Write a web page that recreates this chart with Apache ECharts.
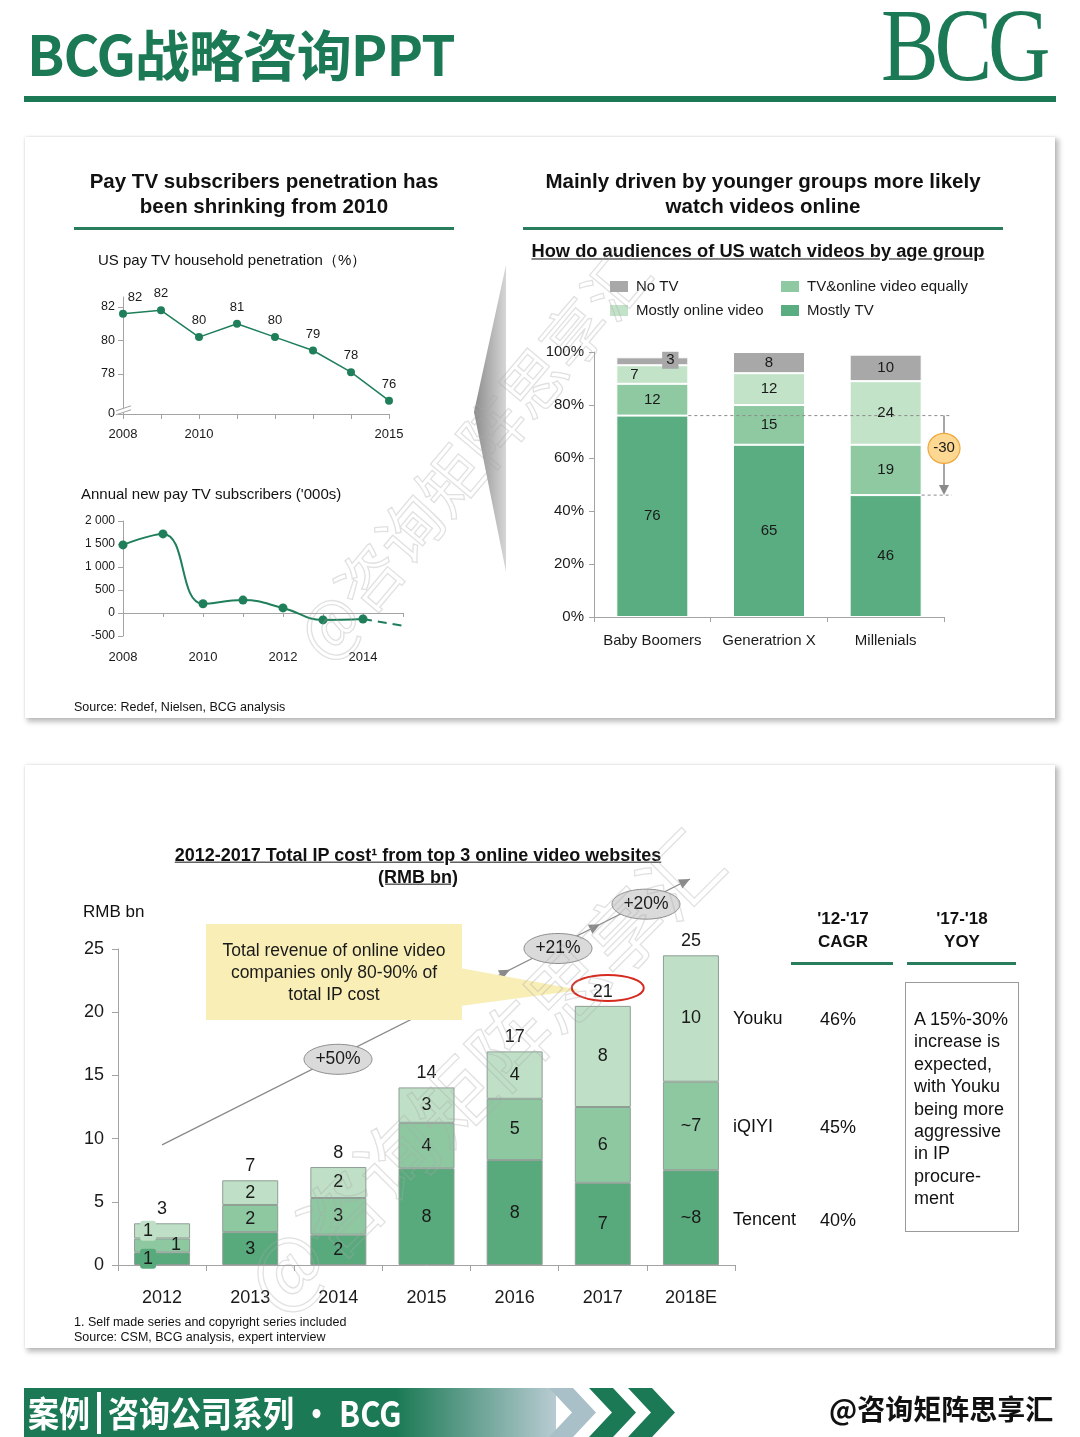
<!DOCTYPE html>
<html><head><meta charset="utf-8">
<script src="https://cdn.jsdelivr.net/npm/echarts@6.0.0/dist/echarts.min.js"></script>
<style>
html,body{margin:0;padding:0;background:#fff;}
body{width:1080px;height:1437px;position:relative;overflow:hidden;font-family:"Liberation Sans",Arial,sans-serif;color:#111;}
.card{position:absolute;left:25px;width:1030px;background:#fff;box-shadow:3px 3px 5px 1px rgba(0,0,0,0.25),0 0 2px rgba(0,0,0,0.12);z-index:0;}
#chart{position:absolute;left:0;top:0;width:1080px;height:1437px;z-index:2;}
#txt{position:absolute;left:0;top:0;width:1080px;height:1437px;z-index:3;pointer-events:none;}
.t{position:absolute;white-space:nowrap;line-height:1.15;}
.bar{position:absolute;background:#1f7a57;}
.wm{position:absolute;white-space:nowrap;font-family:"Noto Sans CJK SC",sans-serif;color:rgba(255,255,255,0);-webkit-text-stroke:1.3px rgba(170,170,170,0.35);z-index:4;transform-origin:center center;}
</style>
</head><body>
<div class="card" style="top:137px;height:581px;"></div>
<div class="card" style="top:765px;height:583px;"></div>
<div id="chart"></div>
<div id="txt"></div>
<script>
// ---------------- DATA ----------------
const penYears=['2008','2009','2010','2011','2012','2013','2014','2015'];
const penValues=[81.6,81.8,80.2,81.0,80.2,79.4,78.1,76.4];
const penTicks=[75.6,78,80,82];
const subYears=['2008','2009','2010','2011','2012','2013','2014','2015'];
const subActual=[1480,1720,200,280,110,-150,-130,null];
const subProjected=[null,null,null,null,null,null,-130,-280];
const ageGroups=['Baby Boomers','Generatrion X','Millenials'];
const mostlyTV=[76,65,46];
const tvOnlineEqually=[12,15,19];
const mostlyOnline=[7,12,24];
const noTV=[3,8,10];
const ipYears=['2012','2013','2014','2015','2016','2017','2018E'];
const tencentCost=[1.0,2.6,2.4,7.65,8.3,6.5,7.5];
const iqiyiCost=[1.1,2.15,2.9,3.6,4.85,6.0,7.0];
const youkuCost=[1.2,1.95,2.45,2.8,3.75,8.0,10.0];
const tencentLabels=['1','3','2','8','8','7','~8'];
const iqiyiLabels=['1','2','3','4','5','6','~7'];
const youkuLabels=['1','2','2','3','4','8','10'];
const totalLabels=['3','7','8','14','17','21','25'];
const growthLabels=['+50%','+21%','+20%'];
const companies=['Youku','iQIYI','Tencent'];
const cagr=['46%','45%','40%'];
const yoyNote=['A 15%-30%','increase is','expected,','with Youku','being more','aggressive','in IP','procure-','ment'];

// ---------------- HTML TEXT ----------------
const layer=document.getElementById('txt');
function T(x,y,s,o){
  o=o||{};
  const d=document.createElement('div');
  d.className='t';
  d.textContent=s;
  d.style.left=x+'px';d.style.top=y+'px';
  d.style.fontSize=(o.size||15)+'px';
  if(o.bold)d.style.fontWeight='bold';
  if(o.color)d.style.color=o.color;
  if(o.font)d.style.fontFamily=o.font;
  if(o.underline)d.style.textDecoration='underline';
  const a=o.align||'left';
  d.style.transform=(a==='center'?'translate(-50%,-50%)':a==='right'?'translate(-100%,-50%)':'translateY(-50%)')+(o.extra||'');
  layer.appendChild(d);
  return d;
}
function R(x,y,w,h,c){const d=document.createElement('div');d.className='bar';d.style.cssText+=`left:${x}px;top:${y}px;width:${w}px;height:${h}px;background:${c||'#1f7a57'}`;layer.appendChild(d);return d;}

// header
const h=document.createElement('div');
h.textContent='BCG战略咨询PPT';
h.style.cssText='position:absolute;left:27px;top:25px;font-family:"Noto Sans CJK SC",sans-serif;font-weight:bold;font-size:55px;line-height:1;color:#1b7a55;letter-spacing:-1px;white-space:nowrap;';
layer.appendChild(h);
const logo=document.createElement('div');
logo.textContent='BCG';
logo.style.cssText='position:absolute;left:881px;top:-6px;font-family:"Liberation Serif","Times New Roman",serif;font-size:103px;line-height:1;color:#1b7a55;letter-spacing:-5px;transform:scaleX(0.84);transform-origin:left top;white-space:nowrap;';
layer.appendChild(logo);
R(24,96,1032,6,'#1b7a55');

// panel 1 titles
T(264,181,'Pay TV subscribers penetration has',{size:20.5,bold:true,align:'center'});
T(264,206,'been shrinking from 2010',{size:20.5,bold:true,align:'center'});
R(74,227,380,3,'#2a7d5c');
T(763,181,'Mainly driven by younger groups more likely',{size:20.5,bold:true,align:'center'});
T(763,206,'watch videos online',{size:20.5,bold:true,align:'center'});
R(523,227,480,3,'#2a7d5c');
T(758,251,'How do audiences of US watch videos by age group',{size:18.3,bold:true,align:'center',underline:true});
T(98,260,'US pay TV household penetration（%）',{size:15});
T(81,494,"Annual new pay TV subscribers ('000s)",{size:15});
T(74,707,'Source: Redef, Nielsen, BCG analysis',{size:12.5});

// panel 2 texts
T(418,855,'2012-2017 Total IP cost¹ from top 3 online video websites',{size:18,bold:true,align:'center',underline:true});
T(418,877,'(RMB bn)',{size:18,bold:true,align:'center',underline:true});
T(83,912,'RMB bn',{size:17});
T(843,919,"'12-'17",{size:17,bold:true,align:'center'});
T(843,942,'CAGR',{size:17,bold:true,align:'center'});
T(962,919,"'17-'18",{size:17,bold:true,align:'center'});
T(962,942,'YOY',{size:17,bold:true,align:'center'});
R(791,962,102,3,'#2a7d5c');
R(907,962,109,3,'#2a7d5c');
const rowY=[1018,1126,1219];
companies.forEach((c,i)=>{T(733,rowY[i],c,{size:18});T(820,rowY[i]+1,cagr[i],{size:18});});
const box=document.createElement('div');
box.style.cssText='position:absolute;left:905px;top:982px;width:114px;height:250px;border:1px solid #9a9a9a;box-sizing:border-box;';
layer.appendChild(box);
yoyNote.forEach((s,i)=>T(914,1019+i*22.4,s,{size:18}));
T(74,1322,'1. Self made series and copyright series included',{size:12.5});
T(74,1337,'Source: CSM, BCG analysis, expert interview',{size:12.5});

// footer
const fb=document.createElement('div');
fb.style.cssText='position:absolute;left:24px;top:1388px;width:532px;height:49px;background:linear-gradient(90deg,#1b7a55 0%,#1b7a55 70%,#b8cbd2 100%);';
layer.appendChild(fb);
const ft1=document.createElement('div');
ft1.textContent='案例';
ft1.style.cssText='position:absolute;left:28px;top:1394px;font-family:"Noto Sans CJK SC",sans-serif;font-weight:bold;font-size:31px;line-height:1;color:#fff;white-space:nowrap;transform:scaleY(1.15);transform-origin:left top;';
layer.appendChild(ft1);
R(97,1392,4,42,'#ffffff');
const ft2=document.createElement('div');
ft2.textContent='咨询公司系列 · BCG';
ft2.style.cssText='position:absolute;left:108px;top:1394px;font-family:"Noto Sans CJK SC",sans-serif;font-weight:bold;font-size:31px;line-height:1;color:#fff;white-space:nowrap;transform:scaleY(1.15);transform-origin:left top;';
layer.appendChild(ft2);
const svgNS='http://www.w3.org/2000/svg';
const svg=document.createElementNS(svgNS,'svg');
svg.setAttribute('width','1080');svg.setAttribute('height','1437');
svg.style.cssText='position:absolute;left:0;top:0;';
[[549,'#a9c0c8'],[589,'#1b7a55'],[628,'#1b7a55']].forEach(([x,c])=>{
  const p=document.createElementNS(svgNS,'polygon');
  p.setAttribute('points',`${x},1388 ${x+24},1388 ${x+47},1412.5 ${x+24},1437 ${x},1437 ${x+23},1412.5`);
  p.setAttribute('fill',c);svg.appendChild(p);
});
layer.appendChild(svg);
const ft3=document.createElement('div');
ft3.textContent='@咨询矩阵思享汇';
ft3.style.cssText='position:absolute;left:829px;top:1394px;font-family:"Noto Sans CJK SC",sans-serif;font-weight:bold;font-size:28px;line-height:1;color:#111;white-space:nowrap;';
layer.appendChild(ft3);

// watermarks
function WM(cx,cy,size,rot){
  const d=document.createElement('div');d.className='wm';d.textContent='@咨询矩阵思享汇';
  d.style.fontSize=size+'px';d.style.left=cx+'px';d.style.top=cy+'px';
  d.style.transform=`translate(-50%,-50%) rotate(${rot}deg)`;
  document.body.appendChild(d);
}
WM(470,452,64,-50);
WM(480,1068,80,-45);

// ---------------- CHART ----------------
const chart=echarts.init(document.getElementById('chart'),null,{renderer:'canvas'});
const AX='#a3a3a3', TX='#1a1a1a', GREEN='#1f7f5a';
const FONT='"Liberation Sans", Arial, sans-serif';
const c1='#5aad80', c2='#8fc9a2', c3='#c2e3c8', cg='#a8a8a8';
const d1='#58aa7d', d2='#8ec8a1', d3='#bfe0c6';

function ax(extra){return Object.assign({axisLine:{show:true,lineStyle:{color:AX,width:1}},axisTick:{show:true,lineStyle:{color:AX}},splitLine:{show:false}},extra);}

const tencentData=tencentCost.map((v,i)=>i===0?{value:v,label:{offset:[-14,0],backgroundColor:d1,padding:[1,3],borderRadius:3}}:v);
const iqiyiData=iqiyiCost.map((v,i)=>i===0?{value:v,label:{offset:[14,0]}}:v);
const youkuData=youkuCost.map((v,i)=>i===0?{value:v,label:{offset:[-14,0],backgroundColor:d3,padding:[1,3],borderRadius:3}}:v);
const noTVData=noTV.map((v,i)=>i===0?{value:v,label:{offset:[18,-1],backgroundColor:cg,padding:[1,4]}}:v);
const onlineData=mostlyOnline.map((v,i)=>i===0?{value:v,label:{offset:[-18,0]}}:v);
const penData=penValues.map((v,i)=>i===0?{value:v,label:{offset:[12,0]}}:v);

const legendText={fontSize:15,color:TX,lineHeight:15,padding:[0,0,0,2]};
const option={
  animation:false,
  textStyle:{fontFamily:FONT},
  grid:[
    {left:123,top:297,width:266,height:117,outerBoundsMode:'none'},
    {left:123,top:521,width:280,height:115,outerBoundsMode:'none'},
    {left:594,top:352,width:350,height:265,outerBoundsMode:'none'},
    {left:118,top:949,width:617,height:316,outerBoundsMode:'none'}
  ],
  legend:[
    {orient:'vertical',left:608,top:279,padding:0,icon:'rect',itemWidth:20,itemHeight:13,itemGap:9,data:['No TV','Mostly online video'],textStyle:legendText,selectedMode:false},
    {orient:'vertical',left:779,top:279,padding:0,icon:'rect',itemWidth:20,itemHeight:13,itemGap:9,data:['TV&online video equally','Mostly TV'],textStyle:legendText,selectedMode:false}
  ],
  xAxis:[
    ax({type:'category',gridIndex:0,data:penYears,boundaryGap:false,axisTick:{show:true,interval:0,length:5,lineStyle:{color:AX}},axisLabel:{interval:(i)=>i===0||i===2||i===7,fontSize:13,color:TX,margin:14}}),
    ax({type:'category',gridIndex:1,data:subYears,boundaryGap:false,axisLine:{show:true,onZero:true,lineStyle:{color:AX}},axisTick:{show:true,interval:0,length:4,lineStyle:{color:AX}},axisLabel:{interval:1,fontSize:13,color:TX,margin:15}}),
    ax({type:'category',gridIndex:2,data:ageGroups,axisTick:{show:true,length:5,lineStyle:{color:AX}},axisLabel:{interval:0,hideOverlap:false,fontSize:15,color:TX,margin:16}}),
    ax({type:'category',gridIndex:3,data:ipYears,axisTick:{show:true,length:6,lineStyle:{color:AX}},axisLabel:{interval:0,fontSize:18,color:TX,margin:24}})
  ],
  yAxis:[
    ax({type:'value',gridIndex:0,min:75.6,max:82.6,axisTick:{show:true,length:5,customValues:penTicks,lineStyle:{color:AX}},axisLabel:{customValues:penTicks,fontSize:12.5,color:TX,margin:8,formatter:v=>v<77?'0':String(Math.round(v))}}),
    ax({type:'value',gridIndex:1,min:-500,max:2000,interval:500,axisTick:{show:true,length:5,lineStyle:{color:AX}},axisLabel:{fontSize:12,color:TX,margin:8,formatter:v=>Math.abs(v)>=1000?(Math.floor(v/1000)+' '+String(Math.abs(v)%1000).padStart(3,'0')):String(v)}}),
    ax({type:'value',gridIndex:2,min:0,max:100,interval:20,axisTick:{show:true,length:5,lineStyle:{color:AX}},axisLabel:{fontSize:15,color:TX,margin:10,formatter:'{value}%'}}),
    ax({type:'value',gridIndex:3,min:0,max:25,interval:5,axisTick:{show:true,length:6,lineStyle:{color:AX}},axisLabel:{fontSize:18,color:TX,margin:14}})
  ],
  series:[
    {type:'line',xAxisIndex:0,yAxisIndex:0,data:penData,symbol:'circle',symbolSize:8,itemStyle:{color:GREEN},lineStyle:{color:GREEN,width:1.5},
      label:{show:true,position:'top',distance:6,fontSize:13,color:TX,formatter:p=>String(Math.round(p.value))}},
    {type:'line',xAxisIndex:1,yAxisIndex:1,data:subActual,smooth:0.45,symbol:'circle',symbolSize:9,itemStyle:{color:GREEN},lineStyle:{color:GREEN,width:2}},
    {type:'line',xAxisIndex:1,yAxisIndex:1,data:subProjected,showSymbol:false,symbol:'none',lineStyle:{color:GREEN,width:2,type:[9,6]}},
    {name:'Mostly TV',type:'bar',xAxisIndex:2,yAxisIndex:2,stack:'age',barWidth:72,data:mostlyTV,itemStyle:{color:c1,borderColor:'#fff',borderWidth:1},label:{show:true,fontSize:15,color:TX}},
    {name:'TV&online video equally',type:'bar',xAxisIndex:2,yAxisIndex:2,stack:'age',barWidth:72,data:tvOnlineEqually,itemStyle:{color:c2,borderColor:'#fff',borderWidth:1},label:{show:true,fontSize:15,color:TX}},
    {name:'Mostly online video',type:'bar',xAxisIndex:2,yAxisIndex:2,stack:'age',barWidth:72,data:onlineData,itemStyle:{color:c3,borderColor:'#fff',borderWidth:1},label:{show:true,fontSize:15,color:TX}},
    {name:'No TV',type:'bar',xAxisIndex:2,yAxisIndex:2,stack:'age',barWidth:72,data:noTVData,itemStyle:{color:cg,borderColor:'#fff',borderWidth:1},label:{show:true,fontSize:15,color:TX}},
    {name:'Tencent',type:'bar',xAxisIndex:3,yAxisIndex:3,stack:'ip',barWidth:56,data:tencentData,itemStyle:{color:d1,borderColor:'#8e9e94',borderWidth:1},label:{show:true,fontSize:18,color:TX,formatter:p=>tencentLabels[p.dataIndex]}},
    {name:'iQIYI',type:'bar',xAxisIndex:3,yAxisIndex:3,stack:'ip',barWidth:56,data:iqiyiData,itemStyle:{color:d2,borderColor:'#8e9e94',borderWidth:1},label:{show:true,fontSize:18,color:TX,formatter:p=>iqiyiLabels[p.dataIndex]}},
    {name:'Youku',type:'bar',xAxisIndex:3,yAxisIndex:3,stack:'ip',barWidth:56,data:youkuData,itemStyle:{color:d3,borderColor:'#8e9e94',borderWidth:1},label:{show:true,fontSize:18,color:TX,formatter:p=>youkuLabels[p.dataIndex]}},
    {name:'Total',type:'bar',xAxisIndex:3,yAxisIndex:3,stack:'ip',barWidth:56,data:ipYears.map(()=>0),itemStyle:{color:'rgba(0,0,0,0)',borderWidth:0},label:{show:true,position:'top',distance:5,fontSize:18,color:TX,formatter:p=>totalLabels[p.dataIndex]}}
  ]
};
chart.setOption(option);

// ---------------- ANNOTATIONS ----------------
const G=[];
function arrowHead(tx,ty,ux,uy,len,hw,color,z){
  const bx=tx-ux*len,by=ty-uy*len,px=-uy,py=ux;
  return {type:'polygon',z:z||5,shape:{points:[[tx,ty],[bx+px*hw,by+py*hw],[bx-px*hw,by-py*hw]]},style:{fill:color}};
}
function txt(x,y,s,size,z){return {type:'text',z:z||8,style:{text:s,x:x,y:y,align:'center',verticalAlign:'middle',fontSize:size,fontFamily:FONT,fill:TX}};}

// zoom wedge
G.push({type:'polygon',z:1,shape:{points:[[506,265],[506,572],[474,412]]},style:{fill:{type:'linear',x:0,y:0,x2:1,y2:0,colorStops:[{offset:0,color:'#8c8c8c'},{offset:1,color:'#d6d6d6'}]}}});

// axis break marks chart A
const pA=chart.convertToPixel({gridIndex:0},[0,75.85]);
G.push({type:'polygon',z:6,shape:{points:[[pA[0]-6,pA[1]+1],[pA[0]+8,pA[1]-4],[pA[0]+8,pA[1]],[pA[0]-6,pA[1]+5]]},style:{fill:'#fff'}});
G.push({type:'line',z:7,shape:{x1:pA[0]-7,y1:pA[1]+1,x2:pA[0]+8,y2:pA[1]-4},style:{stroke:AX,lineWidth:1}});
G.push({type:'line',z:7,shape:{x1:pA[0]-7,y1:pA[1]+5,x2:pA[0]+8,y2:pA[1]},style:{stroke:AX,lineWidth:1}});

// chart C: -30 annotation
const bb76=chart.convertToPixel({gridIndex:2},[0,76]);
const mi46=chart.convertToPixel({gridIndex:2},[2,46]);
const xr=952, xa=944;
G.push({type:'line',z:5,shape:{x1:bb76[0]+36,y1:bb76[1],x2:xr,y2:bb76[1]},style:{stroke:'#8a8a8a',lineWidth:1,lineDash:[3,3]}});
G.push({type:'line',z:5,shape:{x1:mi46[0]+36,y1:mi46[1],x2:xr,y2:mi46[1]},style:{stroke:'#8a8a8a',lineWidth:1,lineDash:[3,3]}});
G.push({type:'line',z:5,shape:{x1:xa,y1:bb76[1],x2:xa,y2:mi46[1]-6},style:{stroke:'#8a8a8a',lineWidth:1.5}});
G.push(arrowHead(xa,mi46[1],0,1,10,5,'#8a8a8a',5));
const my=(bb76[1]+mi46[1])/2-7;
G.push({type:'ellipse',z:6,shape:{cx:xa,cy:my,rx:16,ry:15},style:{fill:'#fcd892',stroke:'#efa63c',lineWidth:1.2}});
G.push(txt(xa,my,'-30',15));

// chart D: growth trend line
const s0=chart.convertToPixel({gridIndex:3},[0,9.5]);
const s1=[690,879];
const dx=s1[0]-s0[0],dy=s1[1]-s0[1],L=Math.hypot(dx,dy),ux=dx/L,uy=dy/L;
G.push({type:'line',z:2,shape:{x1:s0[0],y1:s0[1],x2:s1[0],y2:s1[1]},style:{stroke:'#8a8a8a',lineWidth:1.3}});
[[510],[600],[690]].forEach(([x])=>{const t=(x-s0[0])/ux;G.push(arrowHead(x,s0[1]+uy*t,ux,uy,11,5,'#8a8a8a',3));});
[[338],[558],[646]].forEach(([x],i)=>{const t=(x-s0[0])/ux;const y=s0[1]+uy*t+3;
  G.push({type:'ellipse',z:4,shape:{cx:x,cy:y,rx:34,ry:15},style:{fill:'#dadada',stroke:'#8e8e8e',lineWidth:1}});
  G.push(txt(x,y,growthLabels[i],17.5,5));
});
// callout
G.push({type:'polygon',z:6,shape:{points:[[460,968],[460,1006],[580,990]]},style:{fill:'#f8eeb6'}});
G.push({type:'rect',z:6,shape:{x:206,y:924,width:256,height:96},style:{fill:'#f8eeb6'}});
G.push(txt(334,951,'Total revenue of online video',17.5,7));
G.push(txt(334,973,'companies only 80-90% of',17.5,7));
G.push(txt(334,995,'total IP cost',17.5,7));
const p21=chart.convertToPixel({gridIndex:3},[5,20.5]);
G.push({type:'ellipse',z:7,shape:{cx:p21[0]+5,cy:p21[1]-18,rx:36,ry:13},style:{fill:'none',stroke:'#d62a20',lineWidth:2}});

chart.setOption({graphic:G});
</script>
</body></html>
